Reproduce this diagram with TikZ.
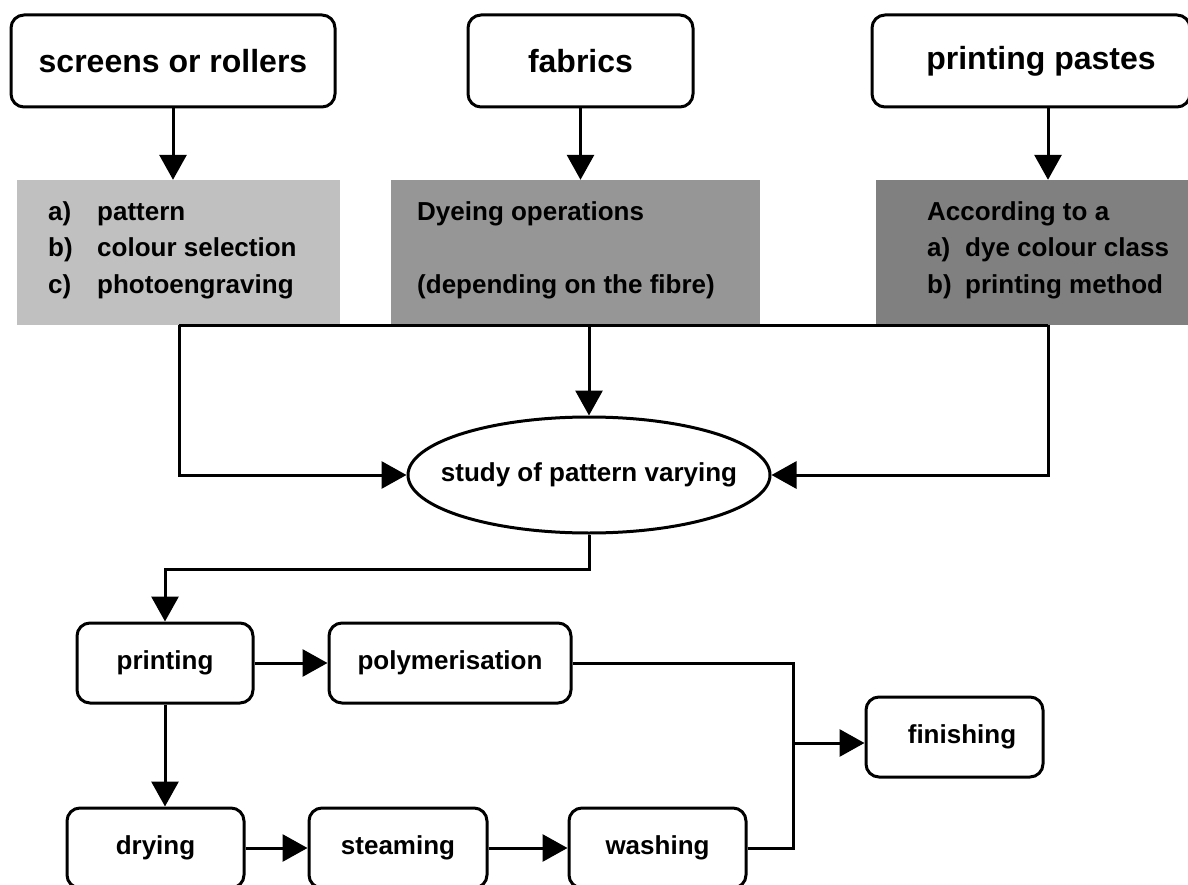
\documentclass[tikz,border=0pt]{standalone}
\usepackage{fontspec}
\setmainfont{Liberation Sans}
\usetikzlibrary{arrows.meta,shapes.geometric}
\definecolor{greyA}{RGB}{192,192,192}
\definecolor{greyB}{RGB}{150,150,150}
\definecolor{greyC}{RGB}{128,128,128}
\begin{document}
\begin{tikzpicture}[x=1pt,y=-1pt,
  box/.style={draw, line width=3pt, rounded corners=13pt, inner sep=0pt, minimum height=80pt},
  topbox/.style={box, minimum height=92pt, font=\bfseries\fontsize{32}{38}\selectfont},
  lowbox/.style={box, font=\bfseries\fontsize{26}{31}\selectfont},
  greybox/.style={inner sep=0pt, minimum height=145pt},
  gtxt/.style={inner sep=0pt, anchor=base west, font=\bfseries\fontsize{26}{31}\selectfont},
  arr/.style={line width=3pt, -{Triangle[length=25pt,width=27pt]}},
  ln/.style={line width=3pt},
]
\useasboundingbox (0,0) rectangle (1188,885);

% top boxes
\node[topbox, minimum width=324pt] (screens) at (173,61) {screens or rollers};
\node[topbox, minimum width=225pt] (fabrics) at (580.5,61) {fabrics};
\node[topbox, minimum width=318pt] (pastes) at (1031,61) {\hspace*{20pt}printing pastes};

% grey boxes
\node[greybox, fill=greyA, minimum width=323pt] (g1) at (178.5,252.5) {};
\node[greybox, fill=greyB, minimum width=369pt] (g2) at (575.5,252.5) {};
\node[greybox, fill=greyC, minimum width=314pt] (g3) at (1033,252.5) {};

\node[gtxt] (t1a) at (48,221) {\makebox[49pt][l]{a)}pattern};
\node[gtxt] (t1b) at (48,257) {\makebox[49pt][l]{b)}colour selection};
\node[gtxt] (t1c) at (48,293) {\makebox[49pt][l]{c)}photoengraving};

\node[gtxt] (t2a) at (417,221) {Dyeing operations};
\node[gtxt] (t2b) at (417,293) {(depending on the fibre)};

\node[gtxt] (t3a) at (927,221) {According to a};
\node[gtxt] (t3b) at (927,257) {\makebox[38pt][l]{a)}dye colour class};
\node[gtxt] (t3c) at (927,293) {\makebox[38pt][l]{b)}printing method};

% ellipse
\node[draw, ellipse, line width=3pt, minimum width=362pt, minimum height=116pt, inner sep=0pt,
      font=\bfseries\fontsize{26}{31}\selectfont] (study) at (589,475) {\makebox[0pt]{study of pattern varying}};

% lower boxes
\node[lowbox, minimum width=176pt] (printing) at (165,663) {printing};
\node[lowbox, minimum width=242pt] (polymer) at (450,663) {polymerisation};
\node[lowbox, minimum width=177pt] (drying) at (155.5,848) {drying};
\node[lowbox, minimum width=178pt] (steaming) at (398,848) {steaming};
\node[lowbox, minimum width=177pt] (washing) at (657.5,848) {washing};
\node[lowbox, minimum width=177pt] (finishing) at (954.5,737) {\hspace*{15pt}finishing};

% connectors top
\coordinate (lx) at (179,325);
\coordinate (rx) at (1048,325);
\draw[arr] (screens.south) -- (screens.south |- g1.north);
\draw[arr] (fabrics.south) -- (fabrics.south |- g2.north);
\draw[arr] (pastes.south -| rx) -- (g3.north -| rx);
\draw[ln] (lx) -- (rx);
\draw[arr] (lx) |- (study.west);
\draw[arr] (rx) |- (study.east);
\draw[arr] (study.north |- lx) -- (study.north);

% connectors lower
\draw[arr] (study.south) -- ++(0,35) -| (printing.north);
\draw[arr] (printing.south) -- (printing.south |- drying.north);
\draw[arr] (printing.east) -- (polymer.west);
\draw[arr] (drying.east) -- (steaming.west);
\draw[arr] (steaming.east) -- (washing.west);
\coordinate (jn) at (793,743);
\draw[ln] (polymer.east) -| (jn |- washing.east) -- (washing.east);
\draw[arr] (jn) -- (jn -| finishing.west);
\end{tikzpicture}
\end{document}
